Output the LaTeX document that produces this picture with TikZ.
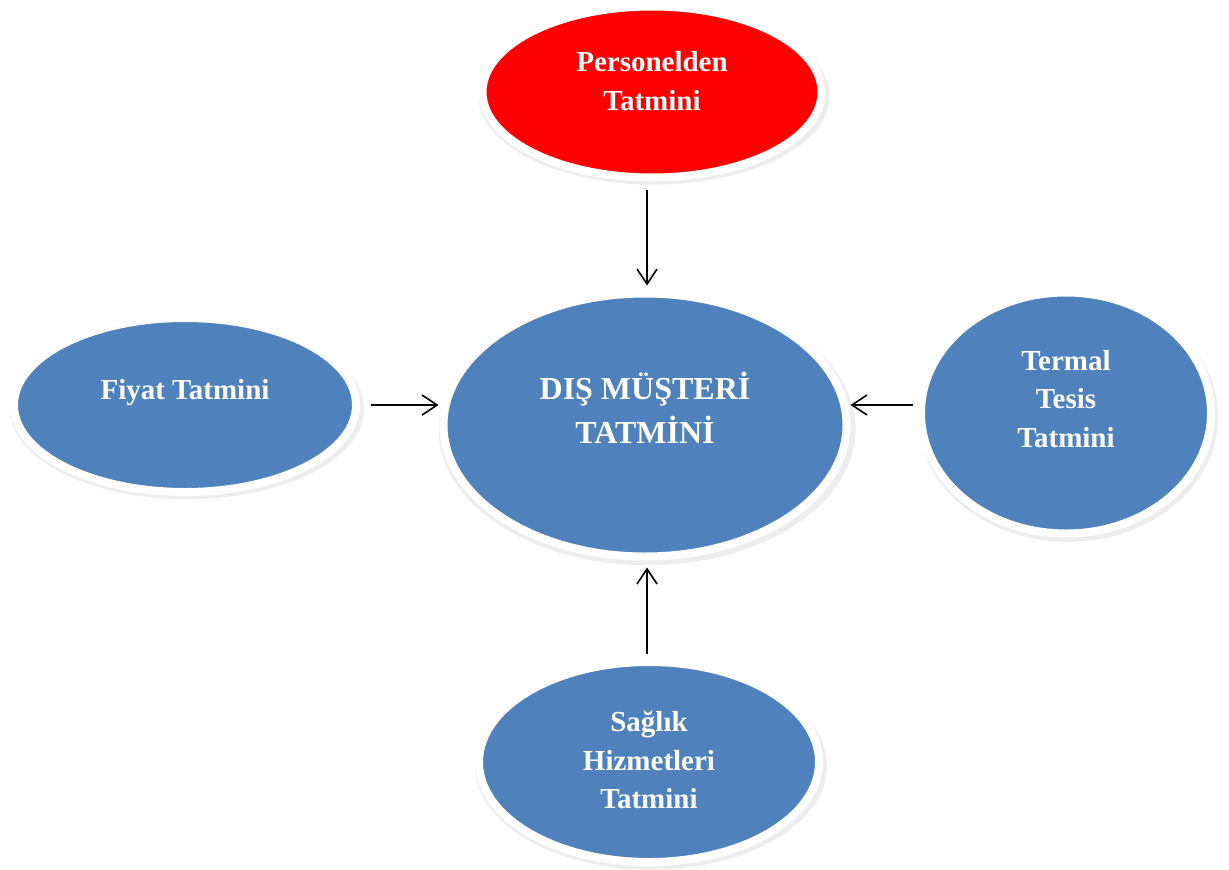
\documentclass[tikz,border=0pt]{standalone}
\usepackage{fontspec}
\setmainfont{Liberation Serif}
\usetikzlibrary{shapes.geometric,arrows.meta,shadows}
\definecolor{ovalblue}{HTML}{4F81BD}
\definecolor{ovalred}{HTML}{FF0000}
\begin{document}
\begin{tikzpicture}[x=1pt,y=-1pt,
  oval/.style={ellipse,inner sep=0pt,draw=white,line width=8pt,fill=ovalblue,
    drop shadow={opacity=0.14,shadow xshift=2pt,shadow yshift=-4pt,shadow scale=1.035}},
  lbl/.style={text=white,font=\bfseries\fontsize{29}{38.5}\selectfont,align=center,inner sep=0pt},
  arr/.style={-{Straight Barb[length=15pt,width=20pt,line width=1.6pt]},line width=1.6pt,black}]
\useasboundingbox (0,0) rectangle (1229,870);
% ovals
\node[oval,fill=ovalred,minimum width=339pt,minimum height=171pt] (top) at (652,92) {};
\node[oval,minimum width=403pt,minimum height=263pt] (main) at (645,425) {};
\node[oval,minimum width=342pt,minimum height=174pt] (left) at (185,405) {};
\node[oval,minimum width=290pt,minimum height=241pt] (right) at (1066,413) {};
\node[oval,minimum width=340pt,minimum height=200pt] (bottom) at (649,762) {};
% labels
\node[lbl] (topt) at (652,81) {Personelden\\Tatmini};
\node[lbl,font=\bfseries\fontsize{32}{44}\selectfont] (maint) at (645,408) {DIŞ MÜŞTERİ\\TATMİNİ};
\node[lbl] (leftt) at (185,393) {Fiyat Tatmini};
\node[lbl] (rightt) at (1066,399) {Termal\\Tesis\\Tatmini};
\node[lbl] (bottomt) at (649,760) {Sağlık\\Hizmetleri\\Tatmini};
% connectors
\draw[arr,shorten <=8pt,shorten >=4pt] ([xshift=-5pt]top.south) -- ([xshift=-5pt]top.south |- main.north);
\draw[arr,shorten <=11pt,shorten >=1pt] (left.east) -- (left.east -| main.west);
\draw[arr,shorten <=4pt,shorten >=0pt] ([yshift=8pt]right.west) -- ([yshift=8pt]right.west -| main.east);
\draw[arr,shorten <=4pt,shorten >=7pt] ([xshift=-2pt]bottom.north) -- ([xshift=-2pt]bottom.north |- main.south);
\end{tikzpicture}
\end{document}
